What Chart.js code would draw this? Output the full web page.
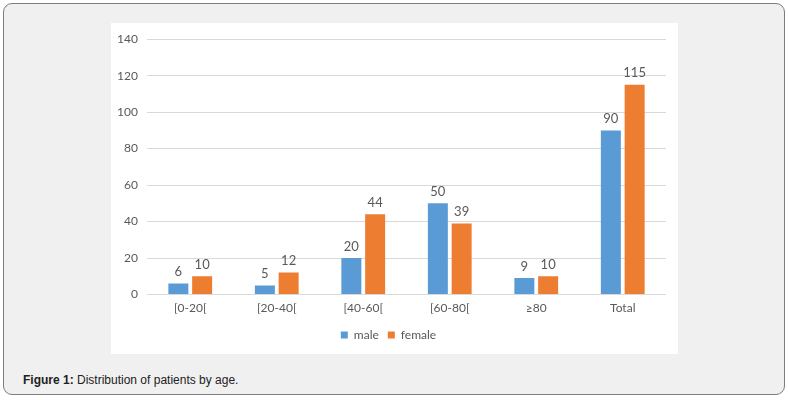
<!DOCTYPE html>
<html>
<head>
<meta charset="utf-8">
<script src="https://cdn.jsdelivr.net/npm/chart.js@4.4.1/dist/chart.umd.min.js"></script>
<style>
  html, body { margin: 0; padding: 0; background: #fff; }
  .frame {
    position: absolute; left: 3px; top: 3px;
    width: 780px; height: 390px;
    border: 1px solid #7d7d7d; border-radius: 9px;
    background: #f0f0f0;
  }
  .panel {
    position: absolute; left: 107px; top: 19px;
    width: 567px; height: 331px;
    background: #fff;
  }
  .caption {
    position: absolute; left: 19px; top: 369px;
    font: 12px "Liberation Sans", Arial, sans-serif; color: #222;
  }
</style>
</head>
<body>
<div class="frame">
  <div class="panel"><canvas id="ageChart" width="567" height="331"></canvas></div>
  <div class="caption"><b>Figure 1:</b> Distribution of patients by age.</div>
</div>
<script>
/* ── Data ───────────────────────────────────────────────────── */
const categories = ['[0-20[', '[20-40[', '[40-60[', '[60-80[', '≥80', 'Total'];
const maleValues   = [6, 5, 20, 50, 9, 90];
const femaleValues = [10, 12, 44, 39, 10, 115];
const yTicks = [0, 20, 40, 60, 80, 100, 120, 140];

const TEXT = '#595959';
const FONT = "Lato, 'Open Sans', sans-serif";

/* ── Value labels above bars ────────────────────────────────── */
const barLabels = {
  id: 'barLabels',
  afterDatasetsDraw(chart) {
    const ctx = chart.ctx;
    ctx.save();
    ctx.fillStyle = TEXT;
    ctx.font = '13px ' + FONT;
    ctx.textAlign = 'center';
    ctx.textBaseline = 'bottom';
    chart.data.datasets.forEach((ds, i) => {
      chart.getDatasetMeta(i).data.forEach((bar, j) => {
        ctx.fillText(ds.data[j], bar.x, bar.y - 5);
      });
    });
    ctx.restore();
  }
};

new Chart(document.getElementById('ageChart'), {
  type: 'bar',
  data: {
    labels: categories,
    datasets: [
      { label: 'male', data: maleValues, backgroundColor: '#5b9bd5' },
      { label: 'female', data: femaleValues, backgroundColor: '#ed7d31' }
    ]
  },
  options: {
    responsive: false,
    animation: false,
    categoryPercentage: 0.55,
    barPercentage: 0.84,
    layout: { padding: { top: 8, right: 12, left: 0, bottom: 3 } },
    plugins: {
      legend: {
        position: 'bottom',
        labels: {
          color: TEXT, boxWidth: 7, boxHeight: 7,
          font: { size: 12, family: FONT }, padding: 9
        }
      },
      tooltip: { enabled: false }
    },
    scales: {
      x: {
        afterFit: axis => { axis.height = 25.5; },
        grid: { display: false, drawTicks: false },
        border: { display: false },
        ticks: { color: TEXT, font: { size: 12, family: FONT }, padding: 6 }
      },
      y: {
        min: 0, max: 140,
        afterBuildTicks: axis => { axis.ticks = yTicks.map(v => ({ value: v })); },
        afterFit: axis => { axis.width = 36; },
        grid: { color: '#d9d9d9', drawTicks: false },
        border: { display: false },
        ticks: { color: TEXT, font: { size: 12, family: FONT }, padding: 9 }
      }
    }
  },
  plugins: [barLabels]
});
</script>
</body>
</html>
